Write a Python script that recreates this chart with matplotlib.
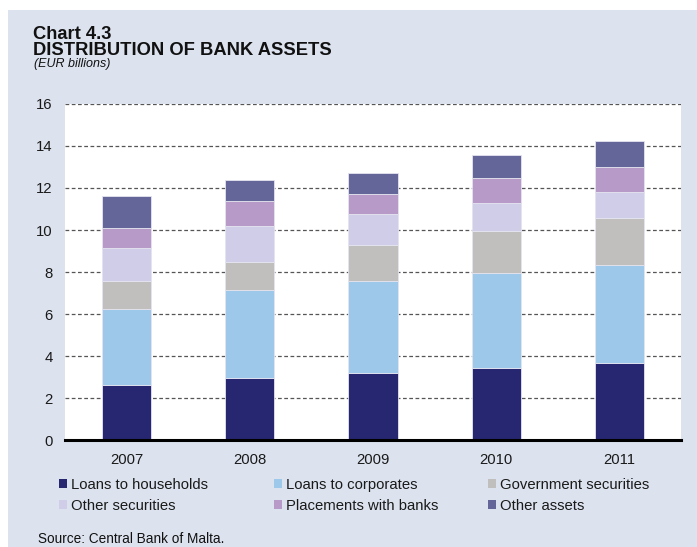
import numpy as np
import matplotlib
matplotlib.use('Agg')
import matplotlib.pyplot as plt
from matplotlib.patches import Patch, Rectangle

plt.rcParams['font.family'] = ['Liberation Sans', 'DejaVu Sans']

years = ['2007', '2008', '2009', '2010', '2011']
households = [2.63, 2.93, 3.20, 3.45, 3.69]
corporates = [3.61, 4.22, 4.38, 4.52, 4.65]
government = [1.32, 1.32, 1.70, 1.98, 2.21]
other_sec = [1.59, 1.70, 1.48, 1.32, 1.28]
placements = [0.96, 1.20, 0.97, 1.19, 1.17]
other_assets = [1.53, 1.03, 0.99, 1.09, 1.26]

series = [
    ('Loans to households', households, '#262770'),
    ('Loans to corporates', corporates, '#9dc8ea'),
    ('Government securities', government, '#c0bfbd'),
    ('Other securities', other_sec, '#d0cde8'),
    ('Placements with banks', placements, '#b89ac8'),
    ('Other assets', other_assets, '#646699'),
]

bg = '#dce3ef'
fig = plt.figure(figsize=(6.97, 5.47), dpi=100)
fig.patch.set_facecolor('white')
fig.patches.append(Rectangle((8 / 697, 0), 1 - 8 / 697, 1 - 10 / 547,
                             transform=fig.transFigure, facecolor=bg,
                             edgecolor='none', zorder=-10))

ax = fig.add_axes([65 / 697, 107 / 547, 616 / 697, 336 / 547])
ax.set_facecolor('white')

x = np.arange(len(years))
bottom = np.zeros(len(years))
for name, vals, col in series:
    ax.bar(x, vals, 0.4, bottom=bottom, color=col, edgecolor='#e4e4f0',
           linewidth=0.6, zorder=3)
    bottom += np.array(vals)

ax.set_xlim(-0.5, 4.5)
ax.set_ylim(0, 16)
ax.set_yticks(range(0, 17, 2))
ax.set_xticks(x)
ax.set_xticklabels(years)
ax.yaxis.grid(True, color='#555555', linestyle=(0, (3, 2)), linewidth=0.9, zorder=0)
for s in ['top', 'right', 'left']:
    ax.spines[s].set_visible(False)
ax.spines['bottom'].set_linewidth(2.2)
ax.spines['bottom'].set_color('black')
ax.spines['bottom'].set_zorder(5)
ax.tick_params(axis='both', length=0, labelsize=10.7, colors='#1a1a1a')
ax.tick_params(axis='y', pad=9)
ax.tick_params(axis='x', pad=9)

# legend, three columns
cols_x = [59 / 697, 274 / 697, 488 / 697]
for i, cx in enumerate(cols_x):
    items = [series[i], series[i + 3]]
    handles = [Patch(facecolor=c, edgecolor='none', label=n) for n, _, c in items]
    leg = fig.legend(handles=handles, loc='upper left', bbox_to_anchor=(cx, 1 - 478 / 547),
                     frameon=False, fontsize=10.7, handlelength=0.55, handleheight=0.55,
                     handletextpad=0.25, labelspacing=0.45, borderpad=0, borderaxespad=0)
    for t in leg.get_texts():
        t.set_color('#1a1a1a')

fig.text(33 / 697, 1 - 38.5 / 547, 'Chart 4.3', fontsize=13.2, fontweight='bold',
         va='baseline', color='#111111')
fig.text(33 / 697, 1 - 55 / 547, 'DISTRIBUTION OF BANK ASSETS', fontsize=13.2,
         fontweight='bold', va='baseline', color='#111111')
fig.text(34 / 697, 1 - 67 / 547, '(EUR billions)', fontsize=9, style='italic',
         va='baseline', color='#111111')
fig.text(38 / 697, 1 - 543 / 547, 'Source: Central Bank of Malta.', fontsize=9.8,
         va='baseline', color='#111111')

fig.savefig('out.png', dpi=100, facecolor=fig.get_facecolor())
